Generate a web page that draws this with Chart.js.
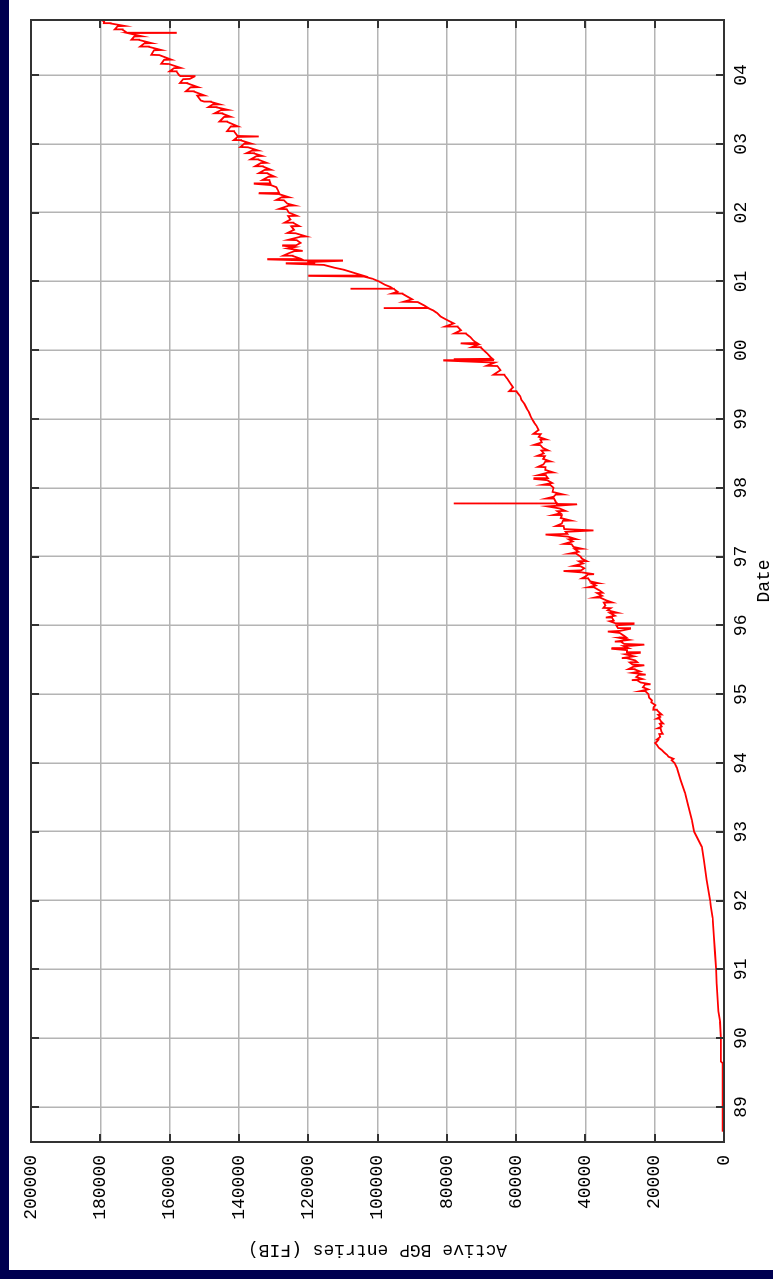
<!DOCTYPE html>
<html lang="en">
<head>
    <meta charset="UTF-8">
    <title>Active BGP entries (FIB)</title>
    <script src="https://cdn.jsdelivr.net/npm/chart.js"></script>
    <style>
        body { margin: 0; background: #000050; width: 773px; height: 1279px; overflow: hidden; }
        /* the plot is drawn landscape and turned a quarter turn anticlockwise */
        .page { position: absolute; left: 0; top: 0; width: 1279px; height: 773px; background: #000050;
                transform-origin: 0 0; transform: translate(0, 1279px) rotate(-90deg); }
        canvas { position: absolute; left: 9px; top: 9px; background: #fff; }
    </style>
</head>
<body>
    <div class="page">
        <canvas id="bgpChart" width="1270" height="764"></canvas>
    </div>

    <script>
        // Date in decimal years (spikes are single samples)
        const dates = [
            1988.64, 1989.00, 1989.64, 1989.66, 1990.00, 1990.24, 1990.39, 1990.80, 1991.00, 1991.24,
            1991.48, 1991.75, 1991.91, 1992.00, 1992.30, 1992.59, 1992.78, 1992.93, 1993.00, 1993.17,
            1993.37, 1993.56, 1993.75, 1993.93, 1994.00, 1994.04, 1994.06, 1994.09, 1994.12, 1994.15,
            1994.19, 1994.22, 1994.26, 1994.29, 1994.31, 1994.34, 1994.38, 1994.42, 1994.46, 1994.50,
            1994.53, 1994.57, 1994.60, 1994.64, 1994.67, 1994.70, 1994.74, 1994.77, 1994.81, 1994.84,
            1994.88, 1994.91, 1994.95, 1995.00, 1995.04, 1995.07, 1995.10, 1995.14, 1995.17, 1995.20,
            1995.22, 1995.25, 1995.28, 1995.31, 1995.33, 1995.36, 1995.40, 1995.42, 1995.43, 1995.46,
            1995.49, 1995.52, 1995.55, 1995.58, 1995.60, 1995.61, 1995.64, 1995.66, 1995.67, 1995.70,
            1995.72, 1995.73, 1995.76, 1995.79, 1995.82, 1995.85, 1995.89, 1995.91, 1995.92, 1995.95,
            1995.96, 1996.00, 1996.02, 1996.03, 1996.06, 1996.07, 1996.11, 1996.14, 1996.18, 1996.22,
            1996.25, 1996.29, 1996.33, 1996.36, 1996.40, 1996.43, 1996.47, 1996.51, 1996.55, 1996.58,
            1996.61, 1996.64, 1996.68, 1996.71, 1996.74, 1996.77, 1996.79, 1996.80, 1996.83, 1996.86,
            1996.90, 1996.93, 1996.97, 1997.00, 1997.04, 1997.07, 1997.11, 1997.14, 1997.18, 1997.22,
            1997.25, 1997.29, 1997.32, 1997.33, 1997.36, 1997.38, 1997.40, 1997.44, 1997.48, 1997.52,
            1997.56, 1997.60, 1997.63, 1997.66, 1997.70, 1997.73, 1997.74, 1997.76, 1997.765, 1997.77,
            1997.775, 1997.80, 1997.84, 1997.87, 1997.90, 1997.94, 1998.00, 1998.04, 1998.07, 1998.11,
            1998.13, 1998.14, 1998.18, 1998.22, 1998.26, 1998.30, 1998.34, 1998.38, 1998.42, 1998.46,
            1998.50, 1998.54, 1998.58, 1998.62, 1998.66, 1998.70, 1998.74, 1998.78, 1998.84, 1998.90,
            1998.95, 1999.00, 1999.05, 1999.10, 1999.15, 1999.22, 1999.28, 1999.33, 1999.40, 1999.46,
            1999.52, 1999.58, 1999.64, 1999.71, 1999.77, 1999.82, 1999.85, 1999.855, 1999.87, 1999.875,
            1999.90, 1999.95, 2000.00, 2000.04, 2000.08, 2000.10, 2000.105, 2000.12, 2000.15, 2000.19,
            2000.24, 2000.29, 2000.34, 2000.39, 2000.44, 2000.49, 2000.54, 2000.58, 2000.61, 2000.612,
            2000.615, 2000.65, 2000.70, 2000.74, 2000.78, 2000.82, 2000.85, 2000.89, 2000.892, 2000.895,
            2000.92, 2000.95, 2001.00, 2001.04, 2001.07, 2001.08, 2001.085, 2001.12, 2001.17, 2001.20,
            2001.24, 2001.26, 2001.265, 2001.28, 2001.30, 2001.305, 2001.32, 2001.325, 2001.33, 2001.37,
            2001.41, 2001.44, 2001.48, 2001.50, 2001.52, 2001.525, 2001.56, 2001.60, 2001.65, 2001.70,
            2001.75, 2001.80, 2001.85, 2001.90, 2001.95, 2002.00, 2002.05, 2002.10, 2002.13, 2002.18,
            2002.22, 2002.27, 2002.28, 2002.285, 2002.33, 2002.37, 2002.40, 2002.42, 2002.425, 2002.47,
            2002.52, 2002.57, 2002.62, 2002.67, 2002.72, 2002.77, 2002.82, 2002.86, 2002.90, 2002.95,
            2003.00, 2003.05, 2003.10, 2003.11, 2003.115, 2003.18, 2003.25, 2003.32, 2003.39, 2003.44,
            2003.49, 2003.53, 2003.57, 2003.61, 2003.63, 2003.70, 2003.76, 2003.82, 2003.88, 2003.94,
            2003.98, 2003.985, 2004.00, 2004.05, 2004.10, 2004.16, 2004.22, 2004.29, 2004.36, 2004.41,
            2004.46, 2004.51, 2004.56, 2004.61, 2004.612, 2004.615, 2004.66, 2004.71, 2004.75, 2004.78,
            2004.80
        ];
        const entries = [
            400, 400, 450, 900, 900, 1150, 1600, 2100, 2300, 2600,
            2900, 3300, 3800, 4000, 5000, 5800, 6400, 7900, 8600, 9300,
            10300, 11200, 12500, 13600, 14300, 15100, 14600, 16000, 16500, 17200,
            18000, 18800, 19300, 19900, 19400, 18900, 18400, 18700, 18100, 18300,
            18000, 18500, 18100, 18600, 18400, 19000, 18800, 19400, 20300, 19800,
            21000, 20800, 21600, 21800, 22600, 21900, 23400, 22800, 24100, 25000,
            23500, 25300, 24600, 26500, 24200, 25800, 26100, 23000, 26400, 27200,
            25600, 27800, 26000, 28500, 24300, 28000, 28000, 32500, 27600, 29000,
            23000, 28800, 29700, 27400, 30400, 28900, 30100, 33500, 30000, 27100,
            30600, 31100, 26100, 31300, 33000, 31800, 32300, 31500, 32900, 33600,
            32700, 34200, 34700, 33800, 35600, 35200, 36600, 36000, 37400, 37000,
            38100, 38600, 39200, 40000, 39300, 41000, 46300, 41200, 40300, 41400,
            40700, 41800, 41000, 41400, 42600, 42000, 43100, 43400, 44000, 43700,
            44800, 45000, 51500, 45200, 45700, 37700, 46100, 46300, 46800, 46500,
            47100, 46800, 47200, 48100, 47500, 51000, 48000, 42400, 48200, 78000,
            48200, 48600, 49000, 49200, 48600, 49500, 49200, 50100, 49600, 51000,
            55000, 50800, 51400, 50900, 51600, 51500, 52100, 51600, 52200, 51700,
            52000, 52700, 52300, 53000, 52600, 53000, 53500, 52900, 53500, 54100,
            54800, 55400, 55900, 56300, 56900, 57600, 58500, 58800, 59900, 60900,
            61700, 62500, 63400, 64500, 65400, 66200, 81000, 66400, 78000, 66800,
            67400, 68300, 69400, 70200, 71000, 76000, 71300, 71800, 72500, 73200,
            74500, 75900, 76900, 78000, 80000, 81800, 82800, 84000, 85300, 98200,
            85400, 86500, 88400, 90000, 91400, 92800, 94200, 95300, 107800, 95500,
            96300, 97800, 99600, 101500, 103900, 120000, 104200, 106500, 109700, 112500,
            115500, 126500, 118000, 120300, 110200, 121000, 131800, 122000, 122200, 124500,
            125600, 124000, 126000, 123800, 127500, 123500, 122200, 123300, 122200, 123600,
            124100, 124900, 124300, 125100, 125800, 125600, 126200, 125700, 126000, 127000,
            127800, 128500, 134300, 128400, 128800, 129200, 130800, 135700, 130900, 131200,
            131500, 131800, 132600, 133100, 133700, 134400, 135000, 135600, 136300, 137400,
            138500, 139400, 140400, 134300, 140400, 141400, 142400, 143400, 144300, 144800,
            145200, 146400, 147600, 148100, 151000, 152000, 153000, 154000, 154900, 156100,
            152800, 156900, 157300, 158000, 158700, 160200, 161600, 163000, 164500, 166000,
            167300, 168800, 170200, 172100, 158200, 172300, 173600, 175000, 177000, 178900,
            179800
        ];
        // short single-sample excursions that make the band look fuzzy
        const spikeDates = [
            1994.344, 1994.424, 1994.504, 1994.574, 1994.644, 1994.704, 1994.774, 1995.044, 1995.144, 1995.204,
            1995.284, 1995.364, 1995.464, 1995.524, 1995.704, 1995.764, 1995.824, 1996.114, 1996.184, 1996.254,
            1996.334, 1996.404, 1996.474, 1996.554, 1996.614, 1996.684, 1996.744, 1996.864, 1996.934, 1997.044,
            1997.114, 1997.184, 1997.254, 1997.444, 1997.524, 1997.604, 1997.664, 1997.844, 1997.904, 1998.044,
            1998.184, 1998.224, 1998.304, 1998.384, 1998.464, 1998.544, 1998.624, 1998.704, 1998.784, 1999.404,
            1999.644, 1999.774, 2000.044, 2000.244, 2000.344, 2000.704, 2000.824, 2001.374, 2001.444, 2001.604,
            2001.654, 2001.704, 2001.804, 2001.854, 2001.954, 2002.054, 2002.104, 2002.184, 2002.224, 2002.474,
            2002.524, 2002.574, 2002.624, 2002.674, 2002.724, 2002.774, 2002.824, 2002.864, 2002.904, 2002.954,
            2003.004, 2003.054, 2003.104, 2003.184, 2003.254, 2003.324, 2003.394, 2003.444, 2003.494, 2003.534,
            2003.574, 2003.614, 2003.704, 2003.764, 2003.824, 2003.884, 2003.944, 2004.054, 2004.104, 2004.164,
            2004.224, 2004.294, 2004.364, 2004.414, 2004.464, 2004.514, 2004.564, 2004.664, 2004.714, 2004.754
        ];
        const spikeEntries = [
            19300, 17700, 19100, 17600, 19400, 18000, 20400, 24200, 21200, 26600,
            22600, 27600, 25000, 29500, 26500, 31500, 28200, 34100, 30800, 34800,
            32300, 37400, 35000, 39200, 36300, 41000, 37500, 43500, 39600, 44500,
            41000, 46200, 42700, 48500, 44200, 49300, 45800, 51300, 46500, 52300,
            53600, 49300, 53700, 50100, 53900, 50800, 54800, 51400, 55000, 62000,
            66500, 68500, 72800, 77800, 80500, 92500, 95800, 127200, 121600, 125800,
            120600, 126000, 122600, 126800, 123300, 128400, 124000, 129200, 125600, 133200,
            129800, 134200, 130800, 135300, 132000, 136600, 133300, 137800, 134500, 139600,
            136500, 141500, 138300, 143400, 140300, 145600, 142400, 147000, 143200, 148800,
            145600, 150000, 150000, 155300, 151800, 157000, 154200, 160000, 156800, 162400,
            159500, 165300, 162400, 168500, 165200, 171000, 168000, 175800, 173000, 179000
        ];
        const yearTicks = [1989, 1990, 1991, 1992, 1993, 1994, 1995, 1996, 1997, 1998, 1999, 2000, 2001, 2002, 2003, 2004];
        const yearLabels = ['89', '90', '91', '92', '93', '94', '95', '96', '97', '98', '99', '00', '01', '02', '03', '04'];

        const monoFont = { family: '"Liberation Mono", "DejaVu Sans Mono", monospace', size: 18, lineHeight: 1 };

        const points = dates.map((d, i) => ({ x: d, y: entries[i] }))
            .concat(spikeDates.map((d, i) => ({ x: d, y: spikeEntries[i] })))
            .sort((a, b) => a.x - b.x);

        // gnuplot style box with inward tick marks on all four sides
        const frameTicks = {
            id: 'frameTicks',
            afterDatasetsDraw(chart) {
                const { ctx, chartArea: a, scales: { x, y } } = chart;
                ctx.save();
                ctx.strokeStyle = '#333';
                ctx.lineWidth = 2;
                ctx.beginPath();
                yearTicks.forEach(v => {
                    const px = Math.round(x.getPixelForValue(v));
                    ctx.moveTo(px, a.bottom); ctx.lineTo(px, a.bottom - 8);
                    ctx.moveTo(px, a.top); ctx.lineTo(px, a.top + 8);
                });
                y.ticks.forEach(t => {
                    const py = Math.round(y.getPixelForValue(t.value));
                    ctx.moveTo(a.left, py); ctx.lineTo(a.left + 8, py);
                    ctx.moveTo(a.right, py); ctx.lineTo(a.right - 8, py);
                });
                ctx.stroke();
                ctx.strokeRect(a.left, a.top, a.right - a.left, a.bottom - a.top);
                ctx.restore();
            }
        };

        const ctx = document.getElementById('bgpChart').getContext('2d');
        const bgpChart = new Chart(ctx, {
            type: 'line',
            data: {
                datasets: [{
                    data: points,
                    borderColor: '#ff0000',
                    borderWidth: 1.8,
                    pointRadius: 0,
                    tension: 0,
                    fill: false
                }]
            },
            options: {
                responsive: false,
                devicePixelRatio: 1,
                animation: false,
                layout: { padding: { left: 0, right: 20, top: 21, bottom: 0 } },
                plugins: { legend: { display: false }, tooltip: { enabled: false } },
                scales: {
                    x: {
                        type: 'linear',
                        min: 1988.49,
                        max: 2004.8,
                        afterBuildTicks: scale => { scale.ticks = yearTicks.map(v => ({ value: v })); },
                        afterFit: scale => { scale.height = 49; },
                        grid: { color: '#b4b4b4', lineWidth: 1.5, drawTicks: false },
                        border: { display: false },
                        ticks: {
                            autoSkip: false, maxRotation: 0, padding: 8, color: '#000', font: monoFont,
                            callback: v => yearLabels[yearTicks.indexOf(v)]
                        },
                        title: { display: true, text: 'Date', color: '#000', font: monoFont, padding: 0 }
                    },
                    y: {
                        min: 0,
                        max: 200000,
                        afterFit: scale => { scale.width = 128; },
                        grid: { color: '#b4b4b4', lineWidth: 1.5, drawTicks: false },
                        border: { display: false },
                        ticks: { stepSize: 20000, padding: 13, color: '#000', font: monoFont, callback: v => String(v) },
                        title: { display: true, text: 'Active BGP entries (FIB)', color: '#000', font: monoFont, padding: { top: 11, bottom: 0 } }
                    }
                }
            },
            plugins: [frameTicks]
        });
    </script>
</body>
</html>
